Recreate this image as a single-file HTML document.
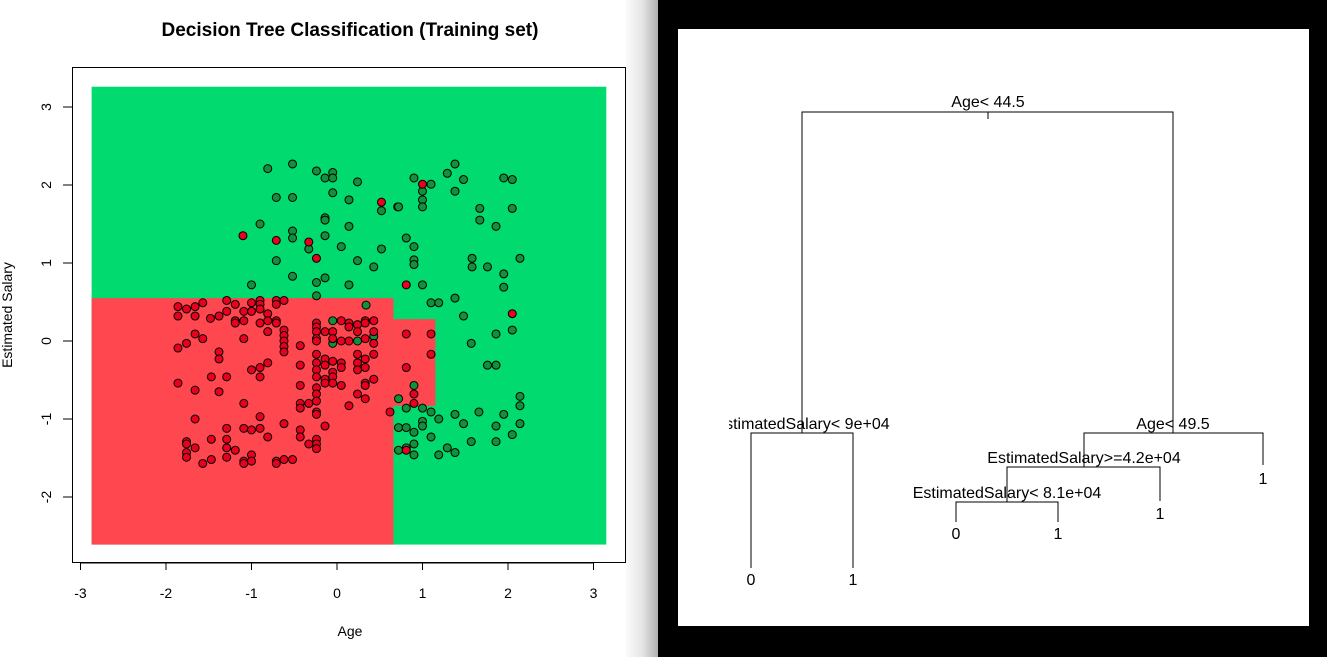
<!DOCTYPE html>
<html><head><meta charset="utf-8"><style>
html,body{margin:0;padding:0;background:#fff;}
svg{display:block;font-family:"Liberation Sans",sans-serif;}
</style></head><body>
<svg id="root" width="1327" height="657" viewBox="0 0 1327 657">
<defs>
<linearGradient id="shade" x1="0" x2="1" y1="0" y2="0">
<stop offset="0" stop-color="#fafafa"/><stop offset="0.5" stop-color="#e6e6e6"/><stop offset="1" stop-color="#b0b0b0"/>
</linearGradient>
<clipPath id="treeclip"><rect x="729" y="29" width="580" height="597"/></clipPath>
</defs>
<rect x="0" y="0" width="1327" height="657" fill="#fff"/>
<rect x="626" y="0" width="32" height="657" fill="url(#shade)"/>
<rect x="658" y="0" width="669" height="657" fill="#000"/>
<rect x="678" y="29" width="631" height="597" fill="#fff"/>
<text x="350" y="36" text-anchor="middle" font-size="19" font-weight="bold">Decision Tree Classification (Training set)</text>
<g id="regions"></g>
<g id="pts"></g>
<rect x="72.5" y="67.5" width="553" height="495" fill="none" stroke="#000" stroke-width="1"/>
<g id="xaxis"></g>
<g id="yaxis"></g>
<text x="350" y="636" text-anchor="middle" font-size="14">Age</text>
<text x="0" y="0" transform="translate(12,315) rotate(-90)" text-anchor="middle" font-size="14">Estimated Salary</text>
<g id="tree" stroke="#000" stroke-width="1" fill="none">
<path d="M802,433V112H1173V433 M988,112V119"/>
<path d="M751,568V433H853V568"/>
<path d="M1263,465V433H1084V467"/>
<path d="M1160,501V467H1007V502"/>
<path d="M956,522V502H1058V522"/>
</g>
<g font-size="16" fill="#000" text-anchor="middle">
<text x="988" y="107">Age&lt; 44.5</text>
<g clip-path="url(#treeclip)"><text x="802" y="429">EstimatedSalary&lt; 9e+04</text></g>
<text x="1173" y="429">Age&lt; 49.5</text>
<text x="1084" y="463">EstimatedSalary&gt;=4.2e+04</text>
<text x="1007" y="498">EstimatedSalary&lt; 8.1e+04</text>
<text x="751" y="585">0</text>
<text x="853" y="585">1</text>
<text x="1263" y="484">1</text>
<text x="1160" y="519">1</text>
<text x="956" y="539">0</text>
<text x="1058" y="539">1</text>
</g>
</svg>
<script>
const xTicks=[-3,-2,-1,0,1,2,3];
const yTicks=[-2,-1,0,1,2,3];
const greenAge=[-0.81,-0.52,-0.24,-0.14,-0.05,-0.05,0.24,-0.71,-0.52,-0.05,0.14,0.52,0.71,-0.90,-0.14,-0.14,0.14,-0.52,-0.52,-0.33,-0.14,0.05,0.52,-0.71,0.24,0.43,-0.52,-0.14,-1.00,-0.24,0.14,-0.24,0.34,1.38,1.29,0.90,1.10,1.48,1.95,2.05,1.00,1.38,1.00,1.00,0.72,1.67,2.05,1.67,1.86,0.81,0.90,0.90,0.90,1.58,1.58,1.76,2.14,1.95,1.95,1.00,1.38,1.10,1.19,1.48,2.05,1.86,1.57,1.76,1.86,0.90,0.72,0.81,1.00,1.10,1.19,1.00,1.00,1.38,1.66,1.48,1.95,2.14,2.14,2.14,1.86,2.05,0.72,0.81,0.90,1.10,0.90,1.57,1.86,1.29,1.38,0.72,0.81,0.90,1.19,-0.05,-0.05,0.43,0.24];
const greenSalary=[2.21,2.27,2.18,2.09,2.16,2.09,2.04,1.84,1.84,1.90,1.81,1.67,1.72,1.50,1.58,1.55,1.47,1.41,1.32,1.18,1.35,1.21,1.18,1.03,1.03,0.95,0.83,0.81,0.72,0.75,0.72,0.58,0.46,2.27,2.15,2.09,2.01,2.07,2.09,2.07,1.92,1.92,1.81,1.72,1.72,1.70,1.70,1.55,1.47,1.32,1.21,1.04,0.98,1.06,0.95,0.95,1.06,0.86,0.69,0.72,0.55,0.49,0.49,0.32,0.14,0.09,-0.03,-0.31,-0.31,-0.57,-0.74,-0.86,-0.86,-0.91,-1.00,-1.03,-1.09,-0.94,-0.91,-1.06,-0.94,-0.71,-0.83,-1.06,-1.09,-1.20,-1.11,-1.11,-1.17,-1.23,-1.32,-1.29,-1.29,-1.37,-1.43,-1.40,-1.37,-1.46,-1.46,0.26,-0.03,0.06,0.00];
const redAge=[0.52,-1.10,-0.71,-0.33,-0.24,1.00,0.81,2.05,0.81,1.10,1.10,0.81,0.90,0.90,0.62,0.81,-1.86,-1.76,-1.66,-1.57,-1.29,-1.19,-1.00,-0.90,-0.90,-0.71,-0.71,-0.62,-1.86,-1.66,-1.48,-1.38,-1.29,-1.09,-1.00,-0.90,-0.81,-1.19,-1.19,-1.09,-0.90,-0.81,-0.71,-0.71,-0.81,-1.66,-1.57,-1.76,-1.86,-1.09,-0.62,-0.62,-0.62,-0.62,-0.62,-0.43,-0.24,-0.24,-0.24,-0.24,-0.24,-0.14,-0.05,-0.05,0.05,0.14,0.14,0.24,0.24,0.33,0.33,0.43,0.43,0.43,0.33,0.14,0.05,-1.38,-1.38,-0.81,-1.00,-0.90,-0.90,-1.47,-1.29,-0.43,-0.24,-0.24,-0.24,-0.24,-0.14,-0.14,-0.14,-0.14,-0.05,-0.05,-0.05,-0.05,0.05,0.05,0.05,0.24,0.24,0.24,0.33,0.33,0.43,0.43,0.33,0.33,-1.86,-1.66,-1.38,-0.43,-0.24,-0.24,-0.24,0.24,0.33,0.14,-1.09,-0.43,-0.43,-0.33,-0.24,-0.24,-1.66,-0.90,-0.62,-0.14,-1.29,-1.09,-1.00,-0.90,-0.43,-0.43,-0.81,-1.76,-1.76,-1.47,-1.29,-0.24,-0.24,-0.24,-0.33,-1.66,-1.29,-1.19,-1.76,-1.76,-1.29,-1.00,-1.47,-1.57,-1.09,-1.09,-1.00,-0.71,-0.71,-0.62,-0.52];
const redSalary=[1.78,1.35,1.29,1.27,1.06,2.01,0.72,0.35,0.09,0.09,-0.17,-0.34,-0.68,-0.80,-0.91,-1.40,0.44,0.41,0.44,0.49,0.52,0.47,0.49,0.52,0.47,0.52,0.47,0.52,0.32,0.32,0.29,0.32,0.38,0.38,0.38,0.41,0.35,0.26,0.23,0.26,0.23,0.26,0.26,0.23,0.12,0.09,0.03,-0.03,-0.09,0.03,0.14,0.07,0.00,-0.07,-0.14,-0.06,0.23,0.18,0.12,0.03,0.00,0.12,0.12,0.03,0.26,0.23,0.18,0.21,0.12,0.26,0.23,0.26,0.12,-0.03,0.03,0.00,0.00,-0.14,-0.23,-0.28,-0.37,-0.34,-0.46,-0.46,-0.46,-0.31,-0.17,-0.28,-0.37,-0.46,-0.23,-0.31,-0.49,-0.54,-0.26,-0.40,-0.46,-0.54,-0.28,-0.34,-0.57,-0.17,-0.28,-0.37,-0.23,-0.34,-0.17,-0.49,-0.54,-0.57,-0.54,-0.63,-0.65,-0.57,-0.60,-0.68,-0.77,-0.68,-0.74,-0.83,-0.80,-0.80,-0.86,-0.80,-0.91,-0.94,-1.00,-0.97,-1.06,-1.09,-1.12,-1.12,-1.14,-1.12,-1.14,-1.23,-1.23,-1.29,-1.32,-1.26,-1.26,-1.26,-1.32,-1.38,-1.32,-1.37,-1.37,-1.40,-1.43,-1.49,-1.49,-1.46,-1.52,-1.57,-1.54,-1.57,-1.54,-1.54,-1.57,-1.52,-1.52];
// decision regions: [x0,x1,y0,y1,class]
const regionX0=[-2.87,-2.87,0.66];
const regionX1=[3.15,0.66,1.15];
const regionY0=[-2.61,-2.61,-0.83];
const regionY1=[3.26,0.55,0.28];
const regionClass=[1,0,0];

const NS="http://www.w3.org/2000/svg";
const sx=v=>337+v*85.5;
const sy=v=>341-v*78;
function mk(tag,attrs,parent){const e=document.createElementNS(NS,tag);for(const k in attrs)e.setAttribute(k,attrs[k]);parent.appendChild(e);return e;}
const reg=document.getElementById('regions');
for(let i=0;i<regionX0.length;i++){
 const r=mk('rect',{x:sx(regionX0[i]),y:sy(regionY1[i]),width:sx(regionX1[i])-sx(regionX0[i]),height:sy(regionY0[i])-sy(regionY1[i]),fill:regionClass[i]?'#00DA6F':'#FF4750'},reg);
 
 
}
const pts=document.getElementById('pts');
for(let i=0;i<greenAge.length;i++){
 const c=mk('circle',{cx:sx(greenAge[i]),cy:sy(greenSalary[i]),r:4,fill:'#12903A',stroke:'#000','stroke-width':1},pts);
 
 
}
for(let i=0;i<redAge.length;i++){
 const c=mk('circle',{cx:sx(redAge[i]),cy:sy(redSalary[i]),r:4,fill:'#E8001C',stroke:'#000','stroke-width':1},pts);
 
 
}
const xa=document.getElementById('xaxis');
mk('line',{x1:sx(xTicks[0]),x2:sx(xTicks[xTicks.length-1]),y1:563,y2:563,stroke:'#000'},xa);
xTicks.forEach(t=>{
 mk('line',{x1:sx(t),x2:sx(t),y1:563,y2:570,stroke:'#000'},xa);
 const l=mk('text',{x:sx(t),y:598,'text-anchor':'middle','font-size':14},xa);
 l.textContent=t;
 
 
});
const ya=document.getElementById('yaxis');
mk('line',{x1:72.5,x2:72.5,y1:sy(yTicks[0]),y2:sy(yTicks[yTicks.length-1]),stroke:'#000'},ya);
yTicks.forEach(t=>{
 mk('line',{x1:63,x2:72.5,y1:sy(t),y2:sy(t),stroke:'#000'},ya);
 const l=mk('text',{x:0,y:0,transform:`translate(51,${sy(t)}) rotate(-90)`,'text-anchor':'middle','font-size':14},ya);
 l.textContent=t;
 
 
});
</script>
</body></html>
